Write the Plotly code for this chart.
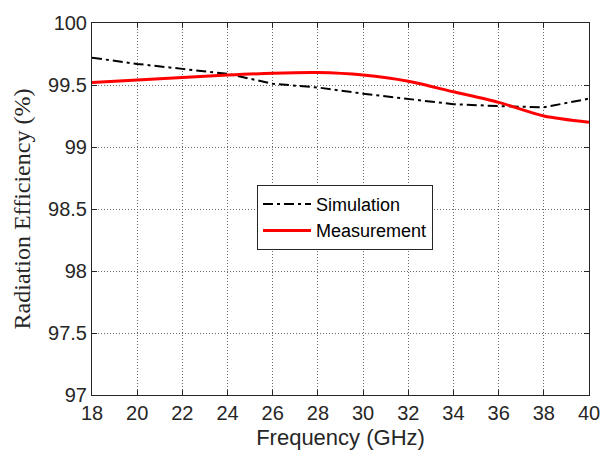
import plotly.graph_objects as go

freq = [18, 20, 22, 24, 26, 28, 30, 32, 34, 36, 38, 40]
simulation = [99.72, 99.67, 99.63, 99.59, 99.51, 99.48, 99.43, 99.39, 99.345, 99.33, 99.32, 99.39]
measurement = [99.52, 99.54, 99.56, 99.58, 99.595, 99.60, 99.58, 99.53, 99.445, 99.36, 99.25, 99.20]
x_ticks = list(range(18, 41, 2))
y_ticks = [97, 97.5, 98, 98.5, 99, 99.5, 100]

fig = go.Figure()
fig.add_trace(go.Scatter(x=freq, y=simulation, mode="lines", name="Simulation",
                         line=dict(color="black", width=2, dash="10px,4px,3px,4px")))
fig.add_trace(go.Scatter(x=freq, y=measurement, mode="lines", name="Measurement",
                         line=dict(color="#ff0000", width=3, shape="spline", smoothing=0.8)))

axis_common = dict(showline=True, linecolor="#262626", linewidth=1, mirror="ticks",
                   ticks="inside", ticklen=5, tickcolor="#262626",
                   showgrid=True, gridcolor="#6a6a6a", griddash="1px,2px", gridwidth=1,
                   zeroline=False,
                   tickfont=dict(family="Liberation Sans, Arial", size=20, color="#262626"))

fig.update_layout(
    width=613, height=460,
    margin=dict(l=92, r=24, t=17, b=65),
    paper_bgcolor="white", plot_bgcolor="white",
    showlegend=True,
    legend=dict(x=0.332, y=0.565, xanchor="left", yanchor="top",
                bgcolor="white", bordercolor="#262626", borderwidth=1,
                font=dict(family="Liberation Sans, Arial", size=18, color="black"),
                tracegroupgap=0, itemwidth=48),
    xaxis=dict(range=[18, 40], tickvals=x_ticks,
               title=dict(text="Frequency (GHz)", standoff=6,
                          font=dict(family="Liberation Sans, Arial", size=22, color="#262626")),
               **axis_common),
    yaxis=dict(range=[97, 100], tickvals=y_ticks, ticktext=[str(v) if v % 1 else str(int(v)) for v in y_ticks],
               title=dict(text="Radiation Efficiency (%)", standoff=10,
                          font=dict(family="Liberation Serif, Times New Roman", size=24, color="#262626")),
               **axis_common),
)

fig.write_html("out.html")
